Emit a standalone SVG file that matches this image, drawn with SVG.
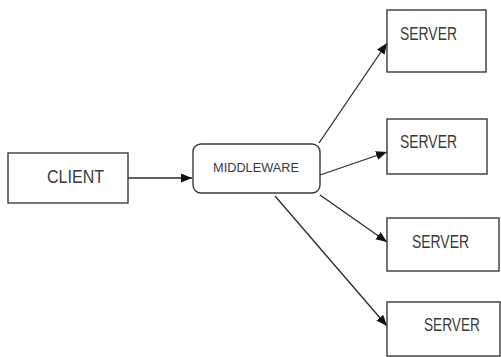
<svg xmlns="http://www.w3.org/2000/svg" width="501" height="357" viewBox="0 0 501 357">
<defs>
<style>
.box{fill:#fff;stroke:#3a3a3a;stroke-width:1.4}
.lbl{font-family:"Liberation Sans",Arial,sans-serif;fill:#3a3a3a}
.edge{stroke:#2a2a2a;stroke-width:1.3;fill:none;marker-end:url(#ah)}
</style>
<marker id="ah" markerUnits="userSpaceOnUse" markerWidth="12" markerHeight="10" refX="11" refY="4.5" orient="auto">
<path d="M0,0 L11,4.5 L0,9 z" fill="#111"/>
</marker>
</defs>
<rect width="501" height="357" fill="#fff"/>
<g id="connectors">
<line class="edge" x1="128" y1="178" x2="192" y2="178"/>
<line class="edge" x1="319" y1="143" x2="387" y2="43"/>
<line class="edge" x1="320" y1="175" x2="387" y2="152"/>
<line class="edge" x1="320" y1="195" x2="387" y2="242"/>
<line class="edge" x1="275" y1="196" x2="387" y2="326"/>
</g>
<g id="client">
<rect class="box" x="8" y="153" width="120" height="50"/>
<text class="lbl" x="47" y="182.5" font-size="18" textLength="57" lengthAdjust="spacingAndGlyphs">CLIENT</text>
</g>
<g id="middleware">
<rect class="box" x="193" y="144" width="127" height="49" rx="8"/>
<text class="lbl" x="213" y="172" font-size="12.5" textLength="86" lengthAdjust="spacingAndGlyphs">MIDDLEWARE</text>
</g>
<g id="server1">
<rect class="box" x="387" y="10" width="99" height="62"/>
<text class="lbl" x="400" y="40" font-size="17.5" textLength="57" lengthAdjust="spacingAndGlyphs">SERVER</text>
</g>
<g id="server2">
<rect class="box" x="387" y="119" width="100" height="55"/>
<text class="lbl" x="400" y="148" font-size="17.5" textLength="57" lengthAdjust="spacingAndGlyphs">SERVER</text>
</g>
<g id="server3">
<rect class="box" x="387" y="218" width="112" height="53"/>
<text class="lbl" x="412" y="247.5" font-size="17.5" textLength="57" lengthAdjust="spacingAndGlyphs">SERVER</text>
</g>
<g id="server4">
<rect class="box" x="387" y="302" width="113" height="54"/>
<text class="lbl" x="424" y="330.5" font-size="17.5" textLength="56" lengthAdjust="spacingAndGlyphs">SERVER</text>
</g>
</svg>
